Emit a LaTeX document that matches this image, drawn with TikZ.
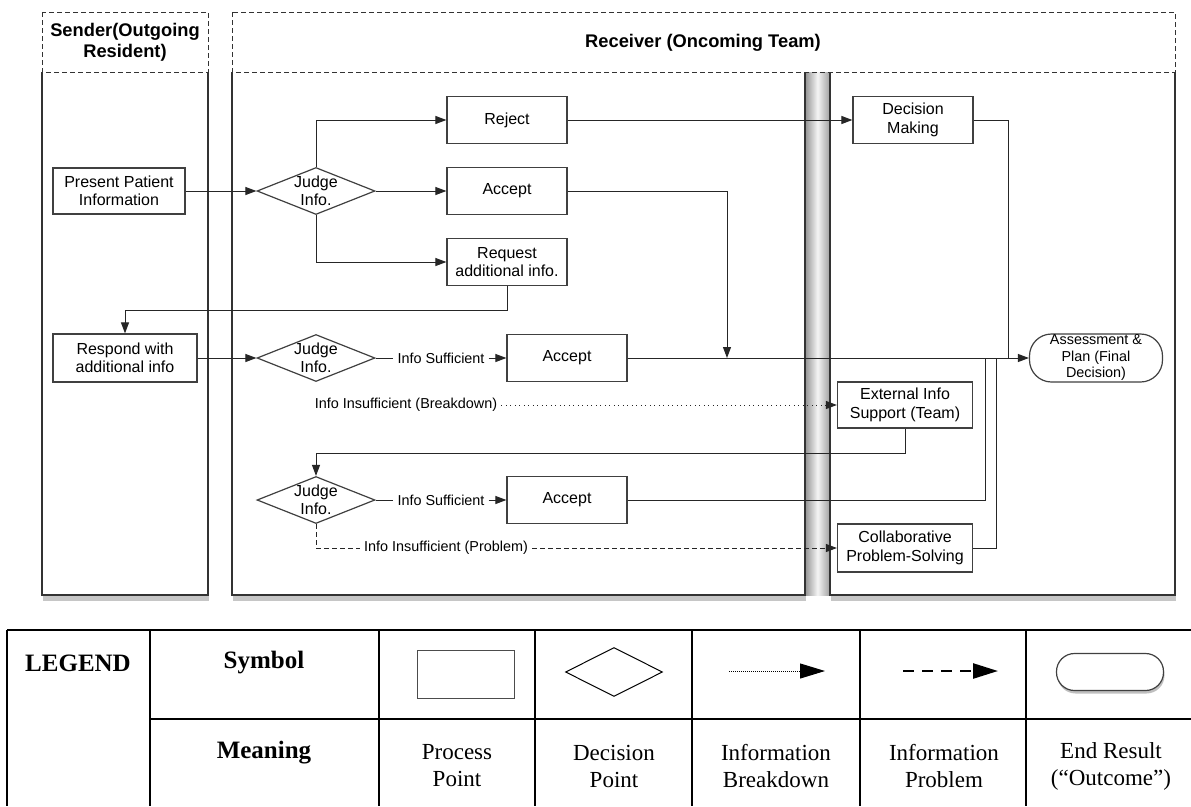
\documentclass[tikz,border=0pt]{standalone}
\usepackage{fontspec}
\setmainfont{Liberation Sans}
\newfontfamily\legendfont{Liberation Serif}
\usetikzlibrary{arrows.meta,shapes.geometric,shadows}

\begin{document}
\begin{tikzpicture}[x=1pt,y=-1pt,
    >={Triangle[length=11pt,width=8pt]},
    lane/.style={line width=1.8pt,draw=black!80},
    laneshadow/.style={fill=white,drop shadow={shadow xshift=1pt,shadow yshift=-6pt,opacity=.45}},
    lanehead/.style={dash pattern=on 5pt off 3pt,line width=1pt,draw=black!80},
    headtext/.style={font=\bfseries\fontsize{18.3}{20.7}\selectfont,align=center},
    proc/.style={draw=black!75,line width=1.2pt,fill=white,minimum width=120pt,minimum height=47pt,inner sep=0pt,align=center,font=\fontsize{16}{18.3}\selectfont},
    judge/.style={diamond,draw=black!75,line width=1.2pt,fill=white,minimum width=118pt,minimum height=47pt,inner sep=0pt},
    judgetext/.style={align=center,font=\fontsize{16}{18.3}\selectfont},
    outcome/.style={draw=black!75,line width=1.2pt,fill=white,rounded corners=22pt,minimum width=133pt,minimum height=48pt,inner sep=0pt,align=center,font=\fontsize{14.4}{16.5}\selectfont},
    cond/.style={font=\fontsize{14.4}{17}\selectfont,inner sep=4pt},
    flow/.style={line width=1pt,draw=black!85},
    breakdown/.style={flow,dash pattern=on 1pt off 3.5pt},
    problem/.style={flow,dash pattern=on 5pt off 3pt},
    tableline/.style={line width=2pt},
    legendtext/.style={font=\legendfont\fontsize{23}{27}\selectfont,align=center},
    legendhead/.style={font=\legendfont\bfseries\fontsize{25}{29}\selectfont}]
  \useasboundingbox (0,0) rectangle (1191,806);

  % lanes
  \fill[laneshadow] (42,72) rectangle (208,595);
  \fill[laneshadow] (232,72) rectangle (805,595);
  \fill[laneshadow] (830,72) rectangle (1175,595);
  \shade[left color=gray!85,right color=gray!75,middle color=gray!8] (805,72) rectangle (830,595);
  \draw[lane] (42,72) -- (42,595) -- (208,595) -- (208,72);
  \draw[lane] (232,72) -- (232,595) -- (805,595) -- (805,72);
  \draw[lane] (830,72) -- (830,595) -- (1175,595) -- (1175,72);
  \draw[lanehead] (42,12) rectangle (208,72);
  \draw[lanehead] (232,12) rectangle (1175,72);
  \node[headtext] (sendhead) at (125,42) {Sender(Outgoing\\Resident)};
  \node[headtext] (recvhead) at (703,43) {Receiver (Oncoming Team)};

  % nodes
  \node[proc,minimum width=132pt,minimum height=46pt] (pres) at (119,191) {Present Patient\\Information};
  \node[judge,label={[judgetext]center:Judge\\Info.}] (j1) at (316,191) {};
  \node[proc] (rej) at (507,120) {Reject};
  \node[proc] (acc1) at (507,191) {Accept};
  \node[proc] (req) at (507,262) {Request\\additional info.};
  \node[proc] (dec) at (913,120) {Decision\\Making};
  \node[proc,minimum width=144pt,minimum height=48pt] (resp) at (125,358) {Respond with\\additional info};
  \node[judge,label={[judgetext]center:Judge\\Info.}] (j2) at (316,358) {};
  \node[cond] (suf2) at (441,358) {Info Sufficient};
  \node[proc] (acc2) at (567,358) {Accept};
  \node[outcome] (plan) at (1096,358) {Assessment \&\\Plan (Final\\Decision)};
  \node[cond] (brk) at (406,405) {Info Insufficient (Breakdown)};
  \node[proc,minimum width=135pt,minimum height=46pt] (ext) at (905,405) {External Info\\Support (Team)};
  \node[judge,label={[judgetext]center:Judge\\Info.}] (j3) at (316,500) {};
  \node[cond] (suf3) at (441,500) {Info Sufficient};
  \node[proc] (acc3) at (567,500) {Accept};
  \node[cond] (prb) at (446,548) {Info Insufficient (Problem)};
  \node[proc,minimum width=135pt,minimum height=48pt] (collab) at (905,548) {Collaborative\\Problem-Solving};
  \coordinate (accjoin) at (727,358);
  \coordinate (acc3join) at (985,358);
  \coordinate (coljoin) at (996,358);
  \coordinate (decjoin) at (1008,358);

  % connectors
  \draw[flow,->] (pres) -- (j1);
  \draw[flow,->] (j1.north) |- (rej);
  \draw[flow,->] (j1) -- (acc1);
  \draw[flow,->] (j1.south) |- (req);
  \draw[flow,->] (rej) -- (dec);
  \draw[flow,->] (acc1) -| (accjoin);
  \draw[flow,->] (req.south) -- ++(0,24) -| (resp.north);
  \draw[flow,->] (resp) -- (j2);
  \draw[flow] (j2) -- (suf2);
  \draw[flow,->] (suf2) -- (acc2);
  \draw[flow,->] (acc2) -- (plan);
  \draw[flow] (dec) -| (decjoin);
  \draw[breakdown,->] (brk) -- (ext);
  \draw[flow,->] (ext.south) -- ++(0,25) -| (j3.north);
  \draw[flow] (j3) -- (suf3);
  \draw[flow,->] (suf3) -- (acc3);
  \draw[flow] (acc3) -| (acc3join);
  \draw[flow] (collab) -| (coljoin);
  \draw[problem] (j3.south) |- (prb.west);
  \draw[problem,->] (prb) -- (collab);

  % legend
  \draw[tableline] (7,630) -- (1191,630);
  \draw[tableline] (150,719) -- (1191,719);
  \foreach \x in {7,150,379,535,692,860,1026}
    \draw[tableline] (\x,630) -- (\x,806);
  \node[legendhead] (lgd) at (78,663) {LEGEND};
  \node[legendhead] (sym) at (264,663) {Symbol};
  \node[legendhead] (mean) at (264,753) {Meaning};
  \node[draw=black!70,line width=1pt,minimum width=97pt,minimum height=48pt] (symproc) at (466,674) {};
  \node[judge,draw=black,line width=1pt,minimum width=97pt,minimum height=49pt] (symdec) at (614,672) {};
  \coordinate (brkstart) at (729,671);
  \coordinate (brkend) at (825,671);
  \coordinate (prbstart) at (903,671);
  \coordinate (prbend) at (998,671);
  \draw[line width=1pt,dash pattern=on 1pt off 1pt,-{Triangle[length=25pt,width=15pt]}] (brkstart) -- (brkend);
  \draw[line width=2.5pt,dash pattern=on 11pt off 8pt,-{Triangle[length=25pt,width=15pt]}] (prbstart) -- (prbend);
  \node[outcome,rounded corners=18pt,minimum width=107pt,minimum height=37pt,drop shadow={shadow xshift=1pt,shadow yshift=-3pt,opacity=.5}] (symend) at (1110,672) {};
  \node[legendtext] (mproc) at (457,766) {Process\\Point};
  \node[legendtext] (mdec) at (614,766) {Decision\\Point};
  \node[legendtext] (mbrk) at (776,766) {Information\\Breakdown};
  \node[legendtext] (mprb) at (944,766) {Information\\Problem};
  \node[legendtext] (mend) at (1111,766) {End Result\\(“Outcome”)};
\end{tikzpicture}
\end{document}
